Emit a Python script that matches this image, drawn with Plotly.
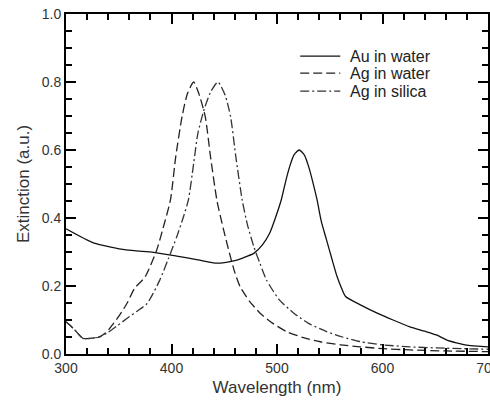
import plotly.graph_objects as go

au_x = [300, 326, 357, 383, 405, 425, 443, 459, 468, 478, 486, 493, 499, 504, 508, 512, 516, 521, 526, 530, 534, 538, 542, 547, 552, 557, 561, 565, 580, 595, 610, 626, 640, 651, 661, 670, 680, 690, 700]
au_y = [0.368, 0.327, 0.306, 0.299, 0.288, 0.277, 0.267, 0.274, 0.283, 0.296, 0.320, 0.355, 0.405, 0.453, 0.505, 0.551, 0.585, 0.600, 0.585, 0.551, 0.505, 0.453, 0.390, 0.335, 0.280, 0.227, 0.195, 0.169, 0.143, 0.120, 0.100, 0.080, 0.067, 0.056, 0.041, 0.033, 0.026, 0.023, 0.021]

agw_x = [300, 307, 316, 320, 332, 339, 345, 351, 358, 365, 375, 386, 392, 399, 404, 410, 415, 421, 426, 432, 437, 443, 449, 455, 460, 465, 474, 484, 496, 509, 525, 541, 560, 579, 600, 626, 660, 700]
agw_y = [0.095, 0.075, 0.046, 0.045, 0.051, 0.066, 0.090, 0.115, 0.150, 0.193, 0.227, 0.306, 0.370, 0.453, 0.580, 0.698, 0.765, 0.800, 0.765, 0.698, 0.580, 0.453, 0.370, 0.296, 0.240, 0.198, 0.155, 0.120, 0.090, 0.066, 0.048, 0.036, 0.027, 0.021, 0.016, 0.012, 0.009, 0.007]

ags_x = [300, 307, 316, 320, 332, 339, 348, 358, 367, 377, 389, 397, 405, 411, 416, 421, 425, 431, 437, 444, 451, 456, 461, 467, 472, 478, 484, 490, 502, 516, 530, 547, 562, 579, 600, 626, 660, 700]
ags_y = [0.095, 0.075, 0.046, 0.045, 0.050, 0.062, 0.082, 0.105, 0.125, 0.149, 0.218, 0.280, 0.345, 0.400, 0.453, 0.560, 0.649, 0.720, 0.770, 0.800, 0.760, 0.698, 0.580, 0.453, 0.380, 0.316, 0.265, 0.218, 0.160, 0.120, 0.090, 0.066, 0.050, 0.036, 0.027, 0.021, 0.017, 0.014]

names = ["Au in water", "Ag in water", "Ag in silica"]
colors = ["#111", "#222", "#333"]
dashes = ["solid", "9px,4px", "9px,3px,2px,3px"]
series = [(au_x, au_y), (agw_x, agw_y), (ags_x, ags_y)]

FONT = "Liberation Sans, Arial, sans-serif"

fig = go.Figure()
for (xs, ys), nm, c, d in zip(series, names, colors, dashes):
    fig.add_trace(go.Scatter(x=xs, y=ys, name=nm, mode="lines", showlegend=False,
                             line=dict(color=c, width=1.3, dash=d, shape="spline", smoothing=0.6)))

# manual legend (paper coordinates)
leg_y = [0.876, 0.826, 0.773]
for nm, c, d, yy in zip(names, colors, dashes, leg_y):
    fig.add_shape(type="line", xref="paper", yref="paper", x0=0.555, x1=0.65, y0=yy, y1=yy,
                  line=dict(color=c, width=1.3, dash=d))
    fig.add_annotation(xref="paper", yref="paper", x=0.668, y=yy, text=nm, showarrow=False,
                       xanchor="left", yanchor="middle",
                       font=dict(family=FONT, size=16, color="#222"))

fig.update_xaxes(
    range=[300, 700], tickmode="linear", tick0=300, dtick=100,
    showgrid=False, zeroline=False, showline=True, linecolor="black", linewidth=2,
    mirror="allticks", ticks="inside", ticklen=10, tickwidth=2, tickcolor="black",
    minor=dict(dtick=20, ticks="inside", ticklen=6, tickwidth=1.5, tickcolor="black", showgrid=False),
    tickfont=dict(family=FONT, size=14, color="#333"),
    ticklabeloverflow="allow", automargin=False,
    title=dict(text="Wavelength (nm)", font=dict(family=FONT, size=17, color="#333"), standoff=6),
)
fig.update_yaxes(
    range=[0, 1.0], tickmode="linear", tick0=0, dtick=0.2, tickformat=".1f",
    showgrid=False, zeroline=False, showline=True, linecolor="black", linewidth=2,
    mirror="allticks", ticks="inside", ticklen=10, tickwidth=2, tickcolor="black",
    minor=dict(dtick=0.05, ticks="inside", ticklen=6, tickwidth=1.5, tickcolor="black", showgrid=False),
    tickfont=dict(family=FONT, size=14, color="#333"),
    automargin=False,
    title=dict(text="Extinction (a.u.)", font=dict(family=FONT, size=17, color="#333"), standoff=8),
)

fig.update_layout(
    width=490, height=403,
    margin=dict(l=66, r=2, t=14, b=49, autoexpand=False),
    paper_bgcolor="white", plot_bgcolor="white",
    showlegend=False,
)

fig.write_html("out.html")
